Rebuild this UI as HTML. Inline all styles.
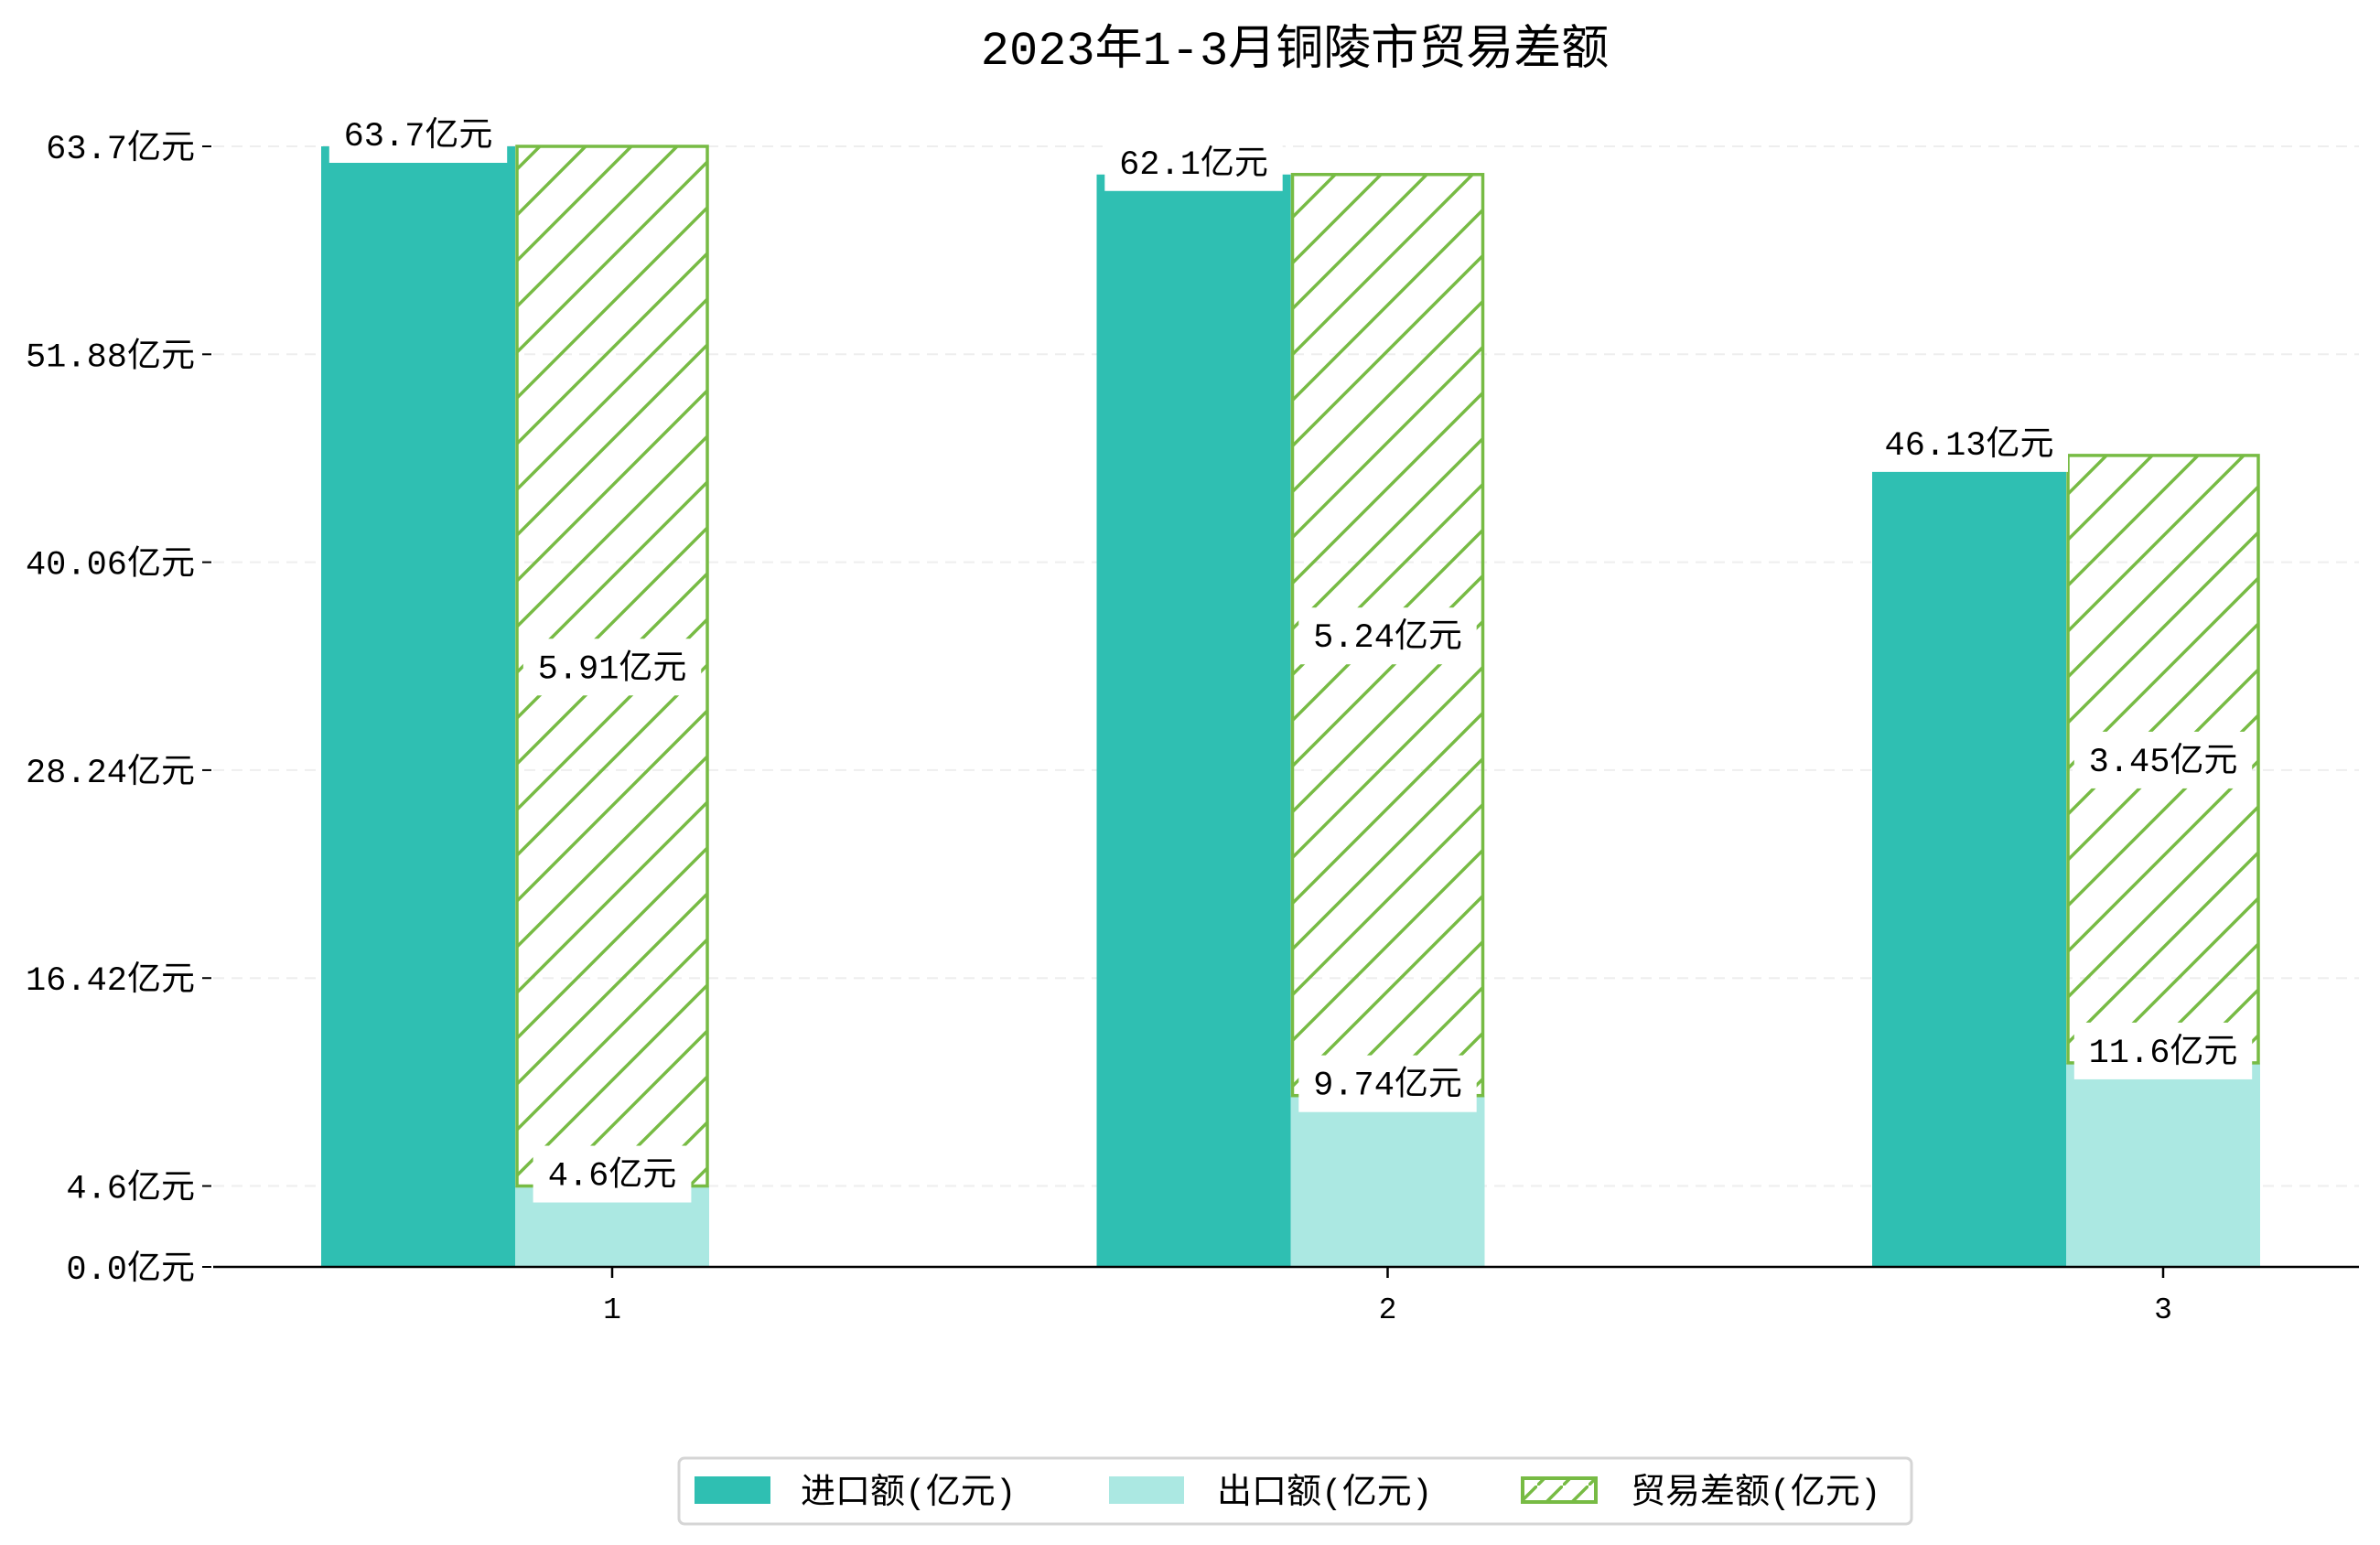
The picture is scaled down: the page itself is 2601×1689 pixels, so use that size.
<!DOCTYPE html>
<html><head><meta charset="utf-8"><style>
body{margin:0;background:#fff;}
svg{display:block;font-family:"Liberation Mono","WenQuanYi Zen Hei","Noto Sans CJK SC",monospace;}
</style></head><body>
<svg id="chart" width="2601" height="1689" viewBox="0 0 2601 1689" xmlns="http://www.w3.org/2000/svg">
<defs>
<pattern id="hatch" patternUnits="userSpaceOnUse" width="50" height="50">
<path d="M-5,55 L55,-5 M-30,30 L30,-30 M20,80 L80,20" stroke="#77bb44" stroke-width="3.5"/>
</pattern>
<pattern id="hatchL" patternUnits="userSpaceOnUse" width="28" height="28">
<path d="M-4,32 L32,-4" stroke="#77bb44" stroke-width="3.5"/>
</pattern>
</defs>
<text x="1415" y="70" font-size="52" text-anchor="middle" fill="#000">2023年1-3月铜陵市贸易差额</text>
<g id="grid"></g>
<g id="bars"></g>
<g id="labels"></g>
<g id="axes"></g>
<g>
<rect x="742" y="1594" width="1347" height="72" rx="6" fill="#fff" stroke="#d5d5d5" stroke-width="3"/>
<rect x="759" y="1614" width="83" height="30" fill="#2fbfb2"/>
<text x="875" y="1643" font-size="38">进口额(亿元)</text>
<rect x="1212" y="1614" width="82" height="30" fill="#abe8e2"/>
<text x="1330" y="1643" font-size="38">出口额(亿元)</text>
<rect x="1664" y="1616" width="80" height="26" fill="url(#hatchL)" stroke="#77bb44" stroke-width="4"/>
<text x="1782" y="1643" font-size="38">贸易差额(亿元)</text>
</g>
</svg>
<script>
const categories = ['1','2','3'];
const importVals = [63.7, 62.1, 46.13];
const exportVals = [4.6, 9.74, 11.6];
const balanceLabels = [5.91, 5.24, 3.45];
const yTicks = [0.0, 4.6, 16.42, 28.24, 40.06, 51.88, 63.7];
const yTickLabels = ['0.0亿元','4.6亿元','16.42亿元','28.24亿元','40.06亿元','51.88亿元','63.7亿元'];

const NS='http://www.w3.org/2000/svg';
const X0=233, X1=2578, Y0=1385, Y1=160, YMAX=63.7;
const y=v=>Y0-(v/YMAX)*(Y0-Y1);
const C0=669, C2=2364;
const xc=i=>C0+i*(C2-C0)/(categories.length-1);
const BW=212;
function mk(tag,attrs,parent,text){const e=document.createElementNS(NS,tag);for(const k in attrs)e.setAttribute(k,attrs[k]);if(text!==undefined)e.textContent=text;document.getElementById(parent).appendChild(e);return e;}

yTicks.forEach((t,i)=>{
  if(t>0){const g=mk('line',{x1:X0,x2:X1,y1:y(t),y2:y(t),stroke:'#eeeeee','stroke-width':2,'stroke-dasharray':'12,8'},'grid');
  
  }
  const tk=mk('line',{x1:X0-12,x2:X0-2,y1:y(t),y2:y(t),stroke:'#000','stroke-width':2},'axes');
  
  
  const tl=mk('text',{x:X0-20,y:y(t)+13,'font-size':37,'text-anchor':'end'},'axes',yTickLabels[i]);
  
  
});
const ax=mk('line',{x1:X0,x2:X1,y1:Y0,y2:Y0,stroke:'#000','stroke-width':2.5},'axes');



function label(cx,val,yy,name){
  const txt=val+'亿元';
  const w=String(val).length*21.6+72+36;
  const r=mk('rect',{x:cx-w/2,y:yy-30,width:w,height:62,fill:'#fff'},'labels');
  
  
  const t=mk('text',{x:cx,y:yy+13,'font-size':37,'text-anchor':'middle'},'labels',txt);
  
  
}

categories.forEach((c,i)=>{
  const cx=xc(i);
  const bi=mk('rect',{x:cx-1.5*BW,y:y(importVals[i]),width:BW,height:Y0-y(importVals[i]),fill:'#2fbfb2'},'bars');
  
  
  const be=mk('rect',{x:cx-0.5*BW,y:y(exportVals[i]),width:BW,height:Y0-y(exportVals[i]),fill:'#abe8e2'},'bars');
  
  
  const bb=mk('rect',{x:cx-0.5*BW+2,y:y(importVals[i]),width:BW-4,height:y(exportVals[i])-y(importVals[i]),fill:'url(#hatch)',stroke:'#77bb44','stroke-width':3.5},'bars');
  
  
  label(cx-BW,importVals[i],y(importVals[i])-14,'label-import-'+c);
  label(cx,exportVals[i],y(exportVals[i])-14,'label-export-'+c);
  label(cx,balanceLabels[i],y((importVals[i]+exportVals[i])/2),'label-balance-'+c);
  const xt=mk('line',{x1:cx,x2:cx,y1:Y0,y2:Y0+12,stroke:'#000','stroke-width':2.5},'axes');
  
  
  const xl=mk('text',{x:cx,y:Y0+56,'font-size':33,'text-anchor':'middle'},'axes',c);
  
  
});
</script>
</body></html>
